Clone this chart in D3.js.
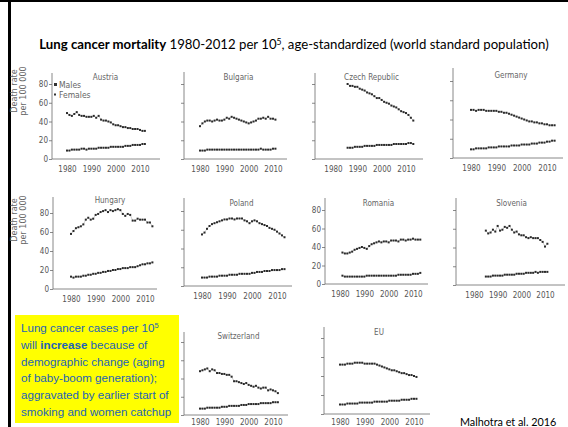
<!DOCTYPE html>
<html>
<head>
<meta charset="utf-8">
<script src="https://cdn.jsdelivr.net/npm/d3@7"></script>
<style>
body{margin:0;background:#fff}
svg{display:block}
</style>
</head>
<body>
<svg id="chart" width="568" height="427"></svg>
<script>

// values, death rate per 100 000
var austriaYears = [1980, 2012]
var austriaMales = [49,47,46,48,50,47,46,46,45,45,45,46,44,46,42,41,41,40,39,37,36,36,35,34,34,33,33,32,32,32,31,30,30]
var austriaFemales = [9,9,10,10,10,10,11,11,10,11,11,11,11,12,12,12,12,12,13,13,13,13,13,13,14,14,14,15,15,15,15,16,16]

var bulgariaYears = [1980, 2011]
var bulgariaMales = [35,38,40,41,41,40,41,42,41,41,42,44,43,45,44,43,42,41,40,39,38,39,40,41,43,43,44,43,45,43,43,42]
var bulgariaFemales = [9,9,9,10,10,10,10,10,10,10,10,10,10,10,10,10,10,10,10,10,10,10,10,10,10,11,10,10,10,10,11,11]

var czechYears = [1986, 2013]
var czechMales = [80,78,78,77,77,75,74,73,71,70,69,67,65,65,63,61,60,59,57,56,55,53,51,50,49,47,44,41]
var czechFemales = [12,12,12,13,13,13,13,14,14,14,14,14,15,15,15,15,15,15,15,16,16,16,16,16,16,17,17,16]

var germanyYears = [1980, 2013]
var germanyMales = [50,50,49,50,50,50,49,49,49,49,49,48,48,47,47,46,45,44,43,42,41,40,39,38,38,37,37,36,36,35,35,34,34,34]
var germanyFemales = [9,9,10,10,10,10,10,11,11,11,11,12,12,12,12,12,13,13,13,13,14,14,14,14,15,15,15,16,16,16,17,17,18,18]

var hungaryYears = [1980, 2013]
var hungaryMales = [58,61,64,65,66,68,73,75,73,74,78,79,81,82,83,81,83,82,83,84,83,79,77,79,78,72,72,74,73,73,73,70,70,66]
var hungaryFemales = [13,12,13,13,13,14,14,15,15,16,16,17,17,18,18,19,19,20,20,21,21,22,22,22,23,23,23,24,25,26,26,27,27,28]

var polandYears = [1980, 2013]
var polandMales = [55,57,61,64,66,67,68,69,70,71,71,72,72,71,72,72,72,70,69,67,69,70,69,67,66,65,64,62,61,60,58,56,54,52]
var polandFemales = [9,9,9,10,10,10,10,11,11,11,11,12,12,12,12,13,13,13,13,13,14,14,15,15,15,16,16,16,17,17,17,17,18,18]

var romaniaYears = [1981, 2013]
var romaniaMales = [34,33,33,34,35,37,38,39,40,39,38,41,43,44,45,46,45,46,46,45,47,47,47,46,48,48,47,48,48,49,48,48,48]
var romaniaFemales = [9,8,8,8,8,8,8,8,8,8,9,9,9,9,9,9,9,9,9,9,9,9,9,10,10,10,10,10,10,11,11,11,12]

var sloveniaYears = [1985, 2011]
var sloveniaMales = [58,55,56,59,57,63,58,59,62,61,63,59,56,57,54,53,53,51,50,51,50,50,50,48,46,41,44]
var sloveniaFemales = [9,9,9,10,10,10,10,10,11,11,11,11,11,12,12,12,12,13,13,13,13,14,13,14,14,14,14]

var switzerlandYears = [1980, 2012]
var switzerlandMales = [48,49,50,51,48,50,49,46,46,45,45,44,44,42,37,37,36,35,34,35,33,32,31,32,30,29,30,30,27,28,27,26,24]
var switzerlandFemales = [7,7,7,8,8,8,8,8,8,9,9,9,10,10,10,10,10,11,11,11,12,12,12,12,12,13,13,13,13,13,14,14,14]

var euYears = [1980, 2011]
var euMales = [52,52,52,53,53,53,54,54,54,54,53,53,53,53,53,52,51,50,49,48,47,46,46,45,44,43,43,42,41,41,40,39]
var euFemales = [10,10,10,11,11,11,11,11,12,12,12,12,12,12,13,13,13,13,13,13,14,14,14,14,14,15,15,15,15,16,16,16]

var yTicks = [0, 20, 40, 60, 80]
var xTicks = [1980, 1990, 2000, 2010]

var countries = [
  {name: "Austria", years: austriaYears, males: austriaMales, females: austriaFemales},
  {name: "Bulgaria", years: bulgariaYears, males: bulgariaMales, females: bulgariaFemales},
  {name: "Czech Republic", years: czechYears, males: czechMales, females: czechFemales},
  {name: "Germany", years: germanyYears, males: germanyMales, females: germanyFemales},
  {name: "Hungary", years: hungaryYears, males: hungaryMales, females: hungaryFemales},
  {name: "Poland", years: polandYears, males: polandMales, females: polandFemales},
  {name: "Romania", years: romaniaYears, males: romaniaMales, females: romaniaFemales},
  {name: "Slovenia", years: sloveniaYears, males: sloveniaMales, females: sloveniaFemales},
  {name: "Switzerland", years: switzerlandYears, males: switzerlandMales, females: switzerlandFemales},
  {name: "EU", years: euYears, males: euMales, females: euFemales}
]

// where each small panel sits on the slide
// ax = y axis x, ay = x axis y, x0/x1 = pixel of 1980/2010, y80 = pixel of 80,
// top/right = axis ends, ty = title baseline, pad = gap under x axis
var boxes = {
  "Austria":        {ax: 52,  ay: 159, x0: 67,  x1: 140, y80: 84,  top: 73,  right: 160, ty: 80,  pad: 7, labels: true, ylab: true, legend: true},
  "Bulgaria":       {ax: 184, ay: 159, x0: 200, x1: 273, y80: 84,  top: 72,  right: 287, ty: 80,  pad: 7},
  "Czech Republic": {ax: 315, ay: 159, x0: 333, x1: 406, y80: 84,  top: 73,  right: 423, ty: 80,  pad: 7},
  "Germany":        {ax: 453, ay: 158, x0: 471, x1: 547, y80: 81,  top: 68,  right: 563, ty: 78,  pad: 7},
  "Hungary":        {ax: 53,  ay: 289, x0: 71,  x1: 145, y80: 213, top: 197, right: 157, ty: 203, pad: 7, labels: true, ylab: true},
  "Poland":         {ax: 184, ay: 286, x0: 202, x1: 277, y80: 211, top: 198, right: 292, ty: 206, pad: 7},
  "Romania":        {ax: 325, ay: 284, x0: 340, x1: 413, y80: 210, top: 198, right: 428, ty: 206, pad: 7, labels: true},
  "Slovenia":       {ax: 456, ay: 285, x0: 474, x1: 545, y80: 210, top: 198, right: 565, ty: 206, pad: 7},
  "Switzerland":    {ax: 184, ay: 415, x0: 200, x1: 273, y80: 342, top: 332, right: 288, ty: 339, pad: 4},
  "EU":             {ax: 324, ay: 414, x0: 340, x1: 414, y80: 338, top: 327, right: 430, ty: 335, pad: 5}
}

var svg = d3.select("#chart")
var grey = "#6b6b6b"
var panelFont = "'DejaVu Sans Condensed', 'DejaVu Sans', sans-serif"

// slide frame
svg.append("rect").attr("x", 0).attr("y", 0).attr("width", 568).attr("height", 2).attr("fill", "#000")
svg.append("rect").attr("x", 8).attr("y", 0).attr("width", 3).attr("height", 427).attr("fill", "#000")

// heading
var head = svg.append("text")
    .attr("x", 294).attr("y", 49)
    .attr("text-anchor", "middle")
    .style("font-family", "Lato, 'Open Sans', sans-serif")
    .style("font-size", "13.2px")
    .attr("fill", "#000")
head.append("tspan").style("font-weight", "bold").text("Lung cancer mortality")
head.append("tspan").text(" 1980-2012 per 10")
head.append("tspan").attr("dy", -4).style("font-size", "8.5px").text("5")
head.append("tspan").attr("dy", 4).text(", age-standardized (world standard population)")

countries.forEach(function(c){
    var b = boxes[c.name]
    var g = svg.append("g")

    var x = d3.scaleLinear().domain([1980, 2010]).range([b.x0, b.x1])
    var y = d3.scaleLinear().domain([0, 80]).range([b.ay, b.y80])

    // axis lines
    g.append("line").attr("x1", b.ax).attr("x2", b.ax).attr("y1", b.top).attr("y2", b.ay)
        .attr("stroke", grey).attr("stroke-width", 0.8)
    g.append("line").attr("x1", b.ax).attr("x2", b.right).attr("y1", b.ay).attr("y2", b.ay)
        .attr("stroke", grey).attr("stroke-width", 0.8)

    var yAxis = g.append("g")
        .attr("transform", "translate(" + b.ax + ",0)")
        .call(d3.axisLeft(y).tickValues(yTicks).tickSize(3).tickPadding(1)
              .tickFormat(b.labels ? d3.format("d") : ""))
    var xAxis = g.append("g")
        .attr("transform", "translate(0," + b.ay + ")")
        .call(d3.axisBottom(x).tickValues(xTicks).tickSize(0).tickPadding(b.pad).tickFormat(d3.format("d")))

    ;[yAxis, xAxis].forEach(function(a){
        a.select(".domain").remove()
        a.selectAll("line").attr("stroke", grey).attr("stroke-width", 0.8)
        a.selectAll("text").attr("fill", "#555").style("font-family", panelFont).style("font-size", "8px")
    })

    g.append("text")
        .attr("x", (b.x0 + b.x1) / 2 + 2).attr("y", b.ty)
        .attr("text-anchor", "middle")
        .attr("fill", "#666")
        .style("font-family", panelFont).style("font-size", "8px")
        .text(c.name)

    var line = d3.line().x(d => x(d[0])).y(d => y(d[1]))

    ;[c.males, c.females].forEach(function(vals){
        var pts = vals.map((v, i) => [c.years[0] + i, v])
        g.append("path").datum(pts).attr("d", line)
            .attr("fill", "none").attr("stroke", "#aaa").attr("stroke-width", 0.6)
        g.selectAll(null).data(pts).enter().append("rect")
            .attr("x", d => x(d[0]) - 1).attr("y", d => y(d[1]) - 1)
            .attr("width", 2).attr("height", 2)
            .attr("fill", "#2a2a2a")
    })

    if (b.ylab) {
        var cy = b.y80 + 7
        ;["Death rate", "per 100 000"].forEach(function(t, i){
            g.append("text")
                .attr("transform", "translate(" + (17 + i * 9) + "," + cy + ") rotate(-90)")
                .attr("text-anchor", "middle")
                .attr("fill", "#666")
                .style("font-family", panelFont).style("font-size", "9px")
                .text(t)
        })
    }

    if (b.legend) {
        ;["Males", "Females"].forEach(function(t, i){
            var ly = b.y80 + 1 + i * 10
            g.append("rect").attr("x", b.ax + 2).attr("y", ly - 1.5 - (i ? 0 : 0.5))
                .attr("width", i ? 2 : 3).attr("height", i ? 2 : 3).attr("fill", "#333")
            g.append("text").attr("x", b.ax + 7).attr("y", ly + 3)
                .attr("fill", "#666")
                .style("font-family", panelFont).style("font-size", "8.5px")
                .text(t)
        })
    }
})

// yellow note
svg.append("rect").attr("x", 15).attr("y", 315).attr("width", 164).attr("height", 108).attr("fill", "#ffff00")
var noteLines = [
  [["Lung cancer cases per 10", ""], ["5", "sup"]],
  [["will ", ""], ["increase", "b"], [" because of", ""]],
  [["demographic change (aging", ""]],
  [["of baby-boom generation);", ""]],
  [["aggravated by earlier start of", ""]],
  [["smoking and women catchup", ""]]
]
noteLines.forEach(function(parts, i){
    var t = svg.append("text")
        .attr("x", 21).attr("y", 332 + i * 16.8)
        .attr("fill", "#1d63b7")
        .style("font-family", "'Liberation Sans', Arial, sans-serif")
        .style("font-size", "11.6px")
    parts.forEach(function(p){
        var s = t.append("tspan").text(p[0])
        if (p[1] === "b") s.style("font-weight", "bold")
        if (p[1] === "sup") s.attr("dy", -4).style("font-size", "7.5px")
    })
})

svg.append("text")
    .attr("x", 460).attr("y", 426)
    .attr("fill", "#000")
    .style("font-family", "Lato, 'Open Sans', sans-serif")
    .style("font-size", "10.8px")
    .text("Malhotra et al. 2016")

</script>
</body>
</html>
